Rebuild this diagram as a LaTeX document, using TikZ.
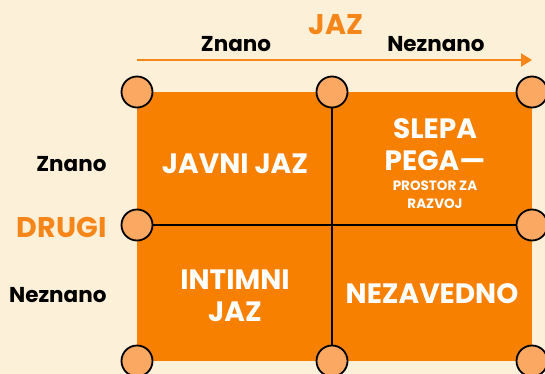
\documentclass[tikz,border=0pt]{standalone}
\usepackage{fontspec}
\setmainfont{Poppins}
\usetikzlibrary{arrows.meta}
\definecolor{bg}{HTML}{FDF0D8}
\definecolor{quad}{HTML}{F78000}
\definecolor{dot}{HTML}{FBA862}
\definecolor{otext}{HTML}{F7861A}
\begin{document}
\begin{tikzpicture}[x=1pt,y=-1pt,
  pin/.style={circle,draw=black,line width=1.8pt,fill=dot,minimum size=31pt,inner sep=0pt},
  lab/.style={font=\fontsize{21.5}{22}\selectfont\bfseries,text=black},
  qtxt/.style={font=\fontsize{28}{32}\selectfont\bfseries,text=white,align=center},
  qsmall/.style={font=\fontsize{13.5}{18}\selectfont\bfseries,text=white,align=center},
  axis/.style={font=\fontsize{28.5}{30}\selectfont\bfseries,text=otext}]
\fill[bg] (0,0) rectangle (545,374);
\useasboundingbox (0,0) rectangle (545,374);
\fill[quad] (137,92) rectangle (532,361);
\coordinate (a0) at (137,60);
\coordinate (a1) at (532,60);
\draw[otext,line width=2.2pt,-{Triangle[length=11pt,width=13pt]}] (a0) -- (a1);
\node[pin] (tl) at (137,92) {};
\node[pin] (tm) at (332,92) {};
\node[pin] (tr) at (532,92) {};
\node[pin] (ml) at (137,225) {};
\node[pin] (mr) at (532,225) {};
\node[pin] (bl) at (137,361) {};
\node[pin] (bm) at (332,361) {};
\node[pin] (br) at (532,361) {};
\draw[black,line width=1.8pt] (tm) -- (bm);
\draw[black,line width=1.8pt] (ml) -- (mr);
\node[axis] (jaz) at (336,25) {JAZ};
\node[lab] (zt) at (236,44) {Znano};
\node[lab] (nt) at (436,44) {Neznano};
\node[lab,anchor=east] (zl) at (110,164) {Znano};
\node[axis,anchor=east] (drugi) at (110,227) {DRUGI};
\node[lab,anchor=east] (nl) at (110,295) {Neznano};
\node[qtxt] (q1) at (235,164) {JAVNI JAZ};
\node[qtxt] (q2a) at (435,145) {SLEPA\\PEGA—};
\node[qsmall] (q2b) at (435,195) {PROSTOR ZA\\RAZVOJ};
\node[qtxt] (q3) at (235,296) {INTIMNI\\JAZ};
\node[qtxt] (q4) at (432,294) {NEZAVEDNO};
\end{tikzpicture}
\end{document}
